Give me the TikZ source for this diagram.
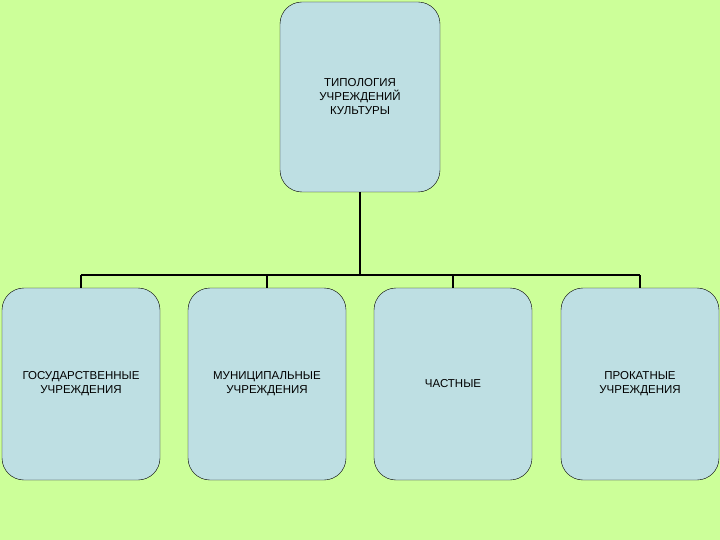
\documentclass[tikz,border=0pt]{standalone}
\usepackage{fontspec}
\setmainfont{Liberation Sans}
\definecolor{bg}{HTML}{CCFF99}
\definecolor{boxc}{HTML}{BEDFE3}
\begin{document}
\begin{tikzpicture}[x=1pt,y=-1pt,
  box/.style={draw=black,fill=boxc,rounded corners=22pt,minimum width=158pt,minimum height=192pt,inner sep=0pt,font=\fontsize{11.5}{14}\selectfont,align=center},
  con/.style={draw=black,line width=1.3pt}]
\fill[bg] (0,0) rectangle (720,540);
\useasboundingbox (0,0) rectangle (720,540);
\begin{scope}
\clip (0,0) rectangle (720,540);
\node[box,minimum width=160pt,minimum height=190pt] (top) at (360,97) {ТИПОЛОГИЯ\\УЧРЕЖДЕНИЙ\\КУЛЬТУРЫ};
\node[box] (a) at (81,384) {ГОСУДАРСТВЕННЫЕ\\УЧРЕЖДЕНИЯ};
\node[box] (b) at (267,384) {МУНИЦИПАЛЬНЫЕ\\УЧРЕЖДЕНИЯ};
\node[box] (c) at (453,384) {ЧАСТНЫЕ};
\node[box] (d) at (640,384) {ПРОКАТНЫЕ\\УЧРЕЖДЕНИЯ};
\coordinate (j) at (360,275);
\draw[con] (top.south) -- (j);
\draw[con] (a.north |- j) -- (d.north |- j);
\foreach \n in {a,b,c,d} \draw[con] (\n.north |- j) -- (\n.north);
\end{scope}
\end{tikzpicture}
\end{document}
